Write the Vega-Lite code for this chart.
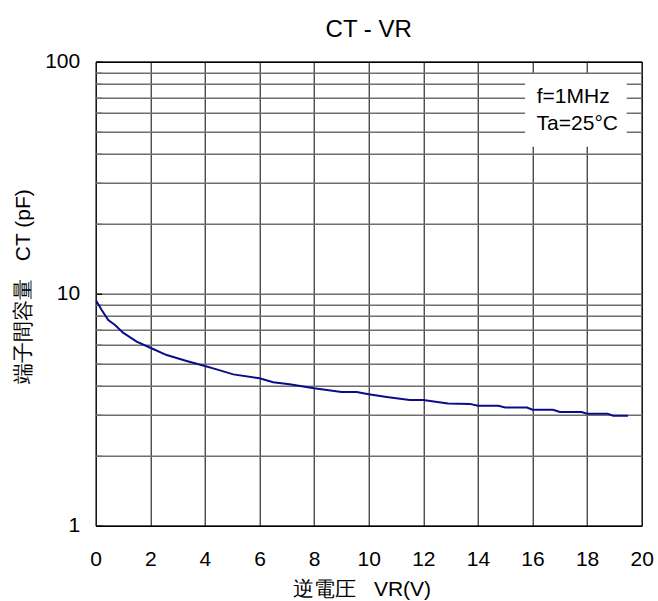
{
  "$schema": "https://vega.github.io/schema/vega-lite/v6.json",
  "autosize": "none",
  "padding": {"left": 95.7, "top": 61.7, "right": 16.3, "bottom": 75.3},
  "width": 546,
  "height": 464,
  "background": "white",
  "config": {
    "font": "Liberation Sans",
    "view": {"stroke": "#000000", "strokeWidth": 1},
    "axis": {"labelFont": "Liberation Sans", "titleFont": "Liberation Sans", "labelColor": "#000000", "titleColor": "#000000", "titleFontWeight": "normal"}
  },
  "title": {"text": "CT - VR", "fontSize": 24, "fontWeight": "normal", "font": "Liberation Sans", "color": "#000000", "baseline": "alphabetic", "offset": -10},
  "datasets": {
    "curve": [
      {"VR": 0, "CT": 9.39}, {"VR": 0.22, "CT": 8.51}, {"VR": 0.46, "CT": 7.7}, {"VR": 0.71, "CT": 7.33},
      {"VR": 1.0, "CT": 6.79}, {"VR": 1.5, "CT": 6.21}, {"VR": 2.0, "CT": 5.85}, {"VR": 2.6, "CT": 5.44},
      {"VR": 3.33, "CT": 5.13}, {"VR": 4.0, "CT": 4.88}, {"VR": 4.43, "CT": 4.72}, {"VR": 5.04, "CT": 4.49},
      {"VR": 6.0, "CT": 4.32}, {"VR": 6.5, "CT": 4.15}, {"VR": 7.1, "CT": 4.07}, {"VR": 8.0, "CT": 3.91},
      {"VR": 9.0, "CT": 3.77}, {"VR": 9.56, "CT": 3.77}, {"VR": 10.0, "CT": 3.69}, {"VR": 10.66, "CT": 3.59},
      {"VR": 11.5, "CT": 3.48}, {"VR": 12.0, "CT": 3.48}, {"VR": 12.9, "CT": 3.36}, {"VR": 13.7, "CT": 3.35},
      {"VR": 14.0, "CT": 3.29}, {"VR": 14.75, "CT": 3.29}, {"VR": 15.0, "CT": 3.23}, {"VR": 15.8, "CT": 3.23},
      {"VR": 16.0, "CT": 3.16}, {"VR": 16.75, "CT": 3.16}, {"VR": 17.0, "CT": 3.09}, {"VR": 17.8, "CT": 3.09},
      {"VR": 18.0, "CT": 3.04}, {"VR": 18.75, "CT": 3.04}, {"VR": 18.95, "CT": 2.98}, {"VR": 19.5, "CT": 2.98}
    ],
    "box": [{"x1": 15.73, "x2": 19.45, "y1": 88.5, "y2": 43.0}],
    "notes": [
      {"x": 17.49, "y": 70.7, "label": "f=1MHz"},
      {"x": 17.64, "y": 53.8, "label": "Ta=25°C"}
    ]
  },
  "layer": [
    {
      "data": {"name": "curve"},
      "mark": {"type": "line", "color": "#0c0c8a", "strokeWidth": 2, "clip": true},
      "encoding": {
        "x": {
          "field": "VR", "type": "quantitative",
          "scale": {"domain": [0, 20], "nice": false, "zero": false},
          "axis": {
            "values": [0, 2, 4, 6, 8, 10, 12, 14, 16, 18, 20],
            "title": "逆電圧\u00a0\u00a0\u00a0VR(V)",
            "titleFontSize": 21,
            "titleColor": "#000000",
            "titleBaseline": "alphabetic",
            "titleY": 69.3,
            "titleX": 266,
            "labelFontSize": 21,
            "labelPadding": 23,
            "labelFlush": false,
            "ticks": false,
            "domain": false,
            "grid": true,
            "gridColor": "#000000",
            "gridWidth": 1,
            "gridOpacity": 1
          }
        },
        "y": {
          "field": "CT", "type": "quantitative",
          "scale": {"type": "log", "domain": [1, 100], "nice": false},
          "axis": {
            "values": [1, 2, 3, 4, 5, 6, 7, 8, 9, 10, 20, 30, 40, 50, 60, 70, 80, 90, 100],
            "labelExpr": "datum.value == 1 || datum.value == 10 || datum.value == 100 ? datum.label : ''",
            "title": "端子間容量\u00a0\u00a0\u00a0CT (pF)",
            "titleFontSize": 21,
            "titleColor": "#000000",
            "titleBaseline": "middle",
            "titleX": -72.7,
            "titleY": 224.3,
            "labelFontSize": 21,
            "labelPadding": 22,
            "labelBaseline": "middle",
            "labelFlush": false,
            "ticks": true,
            "tickSize": -6,
            "tickWidth": 1.3,
            "tickColor": {"condition": {"test": "datum.value == 1 || datum.value == 10 || datum.value == 100", "value": "#000000"}, "value": "#6f6f6f"},
            "domain": false,
            "grid": true,
            "gridColor": {"condition": {"test": "datum.value == 1 || datum.value == 100", "value": "#000000"}, "value": "#6f6f6f"},
            "gridWidth": 1.4,
            "gridOpacity": 1
          }
        }
      }
    },
    {
      "data": {"name": "box"},
      "mark": {"type": "rect", "fill": "white", "stroke": null},
      "encoding": {
        "x": {"field": "x1", "type": "quantitative"},
        "x2": {"field": "x2"},
        "y": {"field": "y1", "type": "quantitative"},
        "y2": {"field": "y2"}
      }
    },
    {
      "data": {"name": "notes"},
      "mark": {"type": "text", "fontSize": 21, "font": "Liberation Sans", "color": "#000000", "align": "center", "baseline": "middle"},
      "encoding": {
        "x": {"field": "x", "type": "quantitative"},
        "y": {"field": "y", "type": "quantitative"},
        "text": {"field": "label"}
      }
    }
  ]
}
